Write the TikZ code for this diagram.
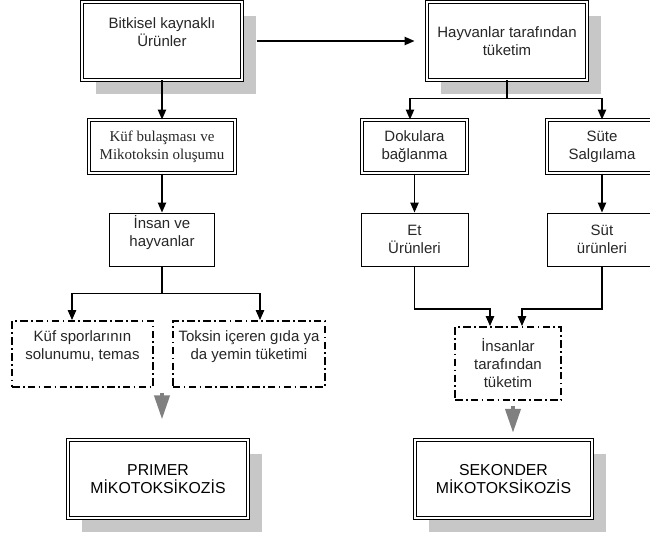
\documentclass[tikz,border=0pt]{standalone}
\usepackage{fontspec}
\setmainfont{Liberation Sans}
\newfontfamily\timesfont{Liberation Serif}
\usetikzlibrary{calc,arrows.meta,shadows}
\def\drawarr{\draw[line width=0.9pt,-{Triangle[length=6pt,width=5pt]}]}
\def\drawgrey{\draw[color=gray,line width=2.5pt,-{Triangle[length=14.5pt,width=9pt]}]}
\def\shadenode{\node[draw,double,double distance=1.2pt,line width=0.6pt,fill=white,drop shadow={shadow xshift=8.4pt,shadow yshift=-8.4pt,fill=black!22,opacity=1},align=center]}
\def\dblnode{\node[draw,double,double distance=1.2pt,line width=0.6pt,align=center]}
\def\plainnode{\node[draw,line width=0.6pt,align=center]}
\def\dashnode{\node[draw,line width=1.1pt,dash pattern=on 4.5pt off 2pt on 1pt off 2pt,align=center]}

\begin{document}
\begin{tikzpicture}[x=0.6pt,y=-0.6pt,text=black!85,font=\fontsize{9}{10.8}\selectfont]
\useasboundingbox (0,0) rectangle (650,537);

% ---------- plant side (left column)
\shadenode[minimum width=96pt,minimum height=46.8pt] (plant) at (162,41) {Bitkisel kaynaklı\\Ürünler\\\mbox{}};
\dblnode[minimum width=87.6pt,minimum height=31.8pt,font=\timesfont\fontsize{9}{10.8}\selectfont] (mould) at (162,146.5) {Küf bulaşması ve\\Mikotoksin oluşumu};
\plainnode[minimum width=63pt,minimum height=31.8pt,inner ysep=0pt] (human) at (162,239.5) {İnsan ve\\hayvanlar\\\mbox{}};
\dashnode[minimum width=84.6pt,minimum height=39.6pt,inner ysep=0pt] (spore) at (82.5,354) {Küf sporlarının\\solunumu, temas\\\mbox{}};
\dashnode[minimum width=88.8pt,minimum height=39.6pt,inner ysep=0pt] (feed) at (249,354) {Toksin içeren gıda ya\\da yemin tüketimi\\\mbox{}};
\shadenode[minimum width=108pt,minimum height=46.8pt,text=black,font=\fontsize{9.5}{10.8}\selectfont] (primer) at (158,479) {PRIMER\\MİKOTOKSİKOZİS};

% ---------- animal side (right column)
\shadenode[minimum width=96pt,minimum height=46.8pt] (animal) at (507,41) {Hayvanlar tarafından\\tüketim};
\dblnode[minimum width=63pt,minimum height=31.8pt] (tissue) at (414.5,146.5) {Dokulara\\bağlanma};
\dblnode[minimum width=66pt,minimum height=31.8pt] (milk) at (602,146.5) {Süte\\Salgılama};
\plainnode[minimum width=64.2pt,minimum height=31.8pt] (meat) at (414.5,239.5) {Et\\Ürünleri};
\plainnode[minimum width=66pt,minimum height=31.8pt] (dairy) at (602,239.5) {Süt\\ürünleri};
\dashnode[minimum width=63.6pt,minimum height=43.8pt,inner ysep=1pt] (consumer) at (508,363.5) {İnsanlar\\tarafından\\tüketim};
\shadenode[minimum width=106.2pt,minimum height=46.8pt,text=black,font=\fontsize{9.5}{10.8}\selectfont] (sekonder) at (503.5,479) {SEKONDER\\MİKOTOKSİKOZİS};

% ---------- connectors
\drawarr ($ (plant.east) + (14,0) $) -- ($ (animal.west) + (-12,0) $);
\drawarr (plant) -- (mould);
\drawarr (mould) -- (human);
\draw[line width=0.9pt] (human.south) -- ++(0,27) coordinate (hsplit);
\drawarr (hsplit) -| ($ (spore.north) + (-10.5,0) $);
\drawarr (hsplit) -| ($ (feed.north) + (11,0) $);

\draw[line width=0.9pt] (animal.south) -- ++(0,18) coordinate (asplit);
\drawarr (asplit) -| ($ (tissue.north) + (-4.5,0) $);
\drawarr (asplit) -| (milk.north);
\drawarr (tissue) -- (meat);
\drawarr (milk) -- (dairy);

\coordinate (cleft) at ($ (consumer.north) + (-18,0) $); % where meat products come in
\coordinate (cright) at ($ (consumer.north) + (14,0) $); % where dairy products come in
\drawarr (meat.south) |- ($ (cleft) + (0,-17) $) -- (cleft);
\drawarr (dairy.south) |- ($ (cright) + (0,-17) $) -- (cright);

% grey arrows down to the two outcomes
\coordinate (ptop) at ($ (primer.north) + (4,-47) $);
\coordinate (pend) at ($ (primer.north) + (4,-20) $);
\drawgrey (ptop) -- (pend);
\coordinate (stop) at ($ (consumer.south) + (5,5) $);
\coordinate (send) at ($ (consumer.south) + (5,32) $);
\drawgrey (stop) -- (send);
\end{tikzpicture}
\end{document}
